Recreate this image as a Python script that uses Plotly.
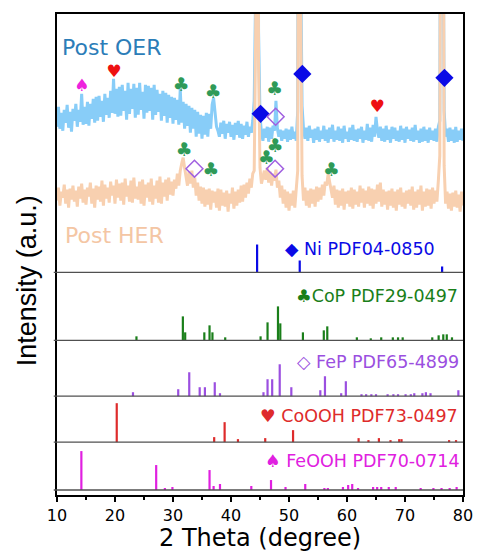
import numpy as np
import plotly.graph_objects as go

# ---------------- data ----------------
two_theta = np.linspace(10, 80, 281)  # 0.25 deg grid

post_oer = [
    24, 44, 22, 38, 20, 41, 28, 46, 23, 39, 19, 42, 30, 47, 24, 41,
    29, 57, 26, 44, 27, 49, 25, 47, 32, 52, 28, 54, 30, 55, 34, 50,
    29, 57, 36, 53, 33, 60, 38, 72, 37, 62, 34, 64, 35, 66, 40, 60,
    31, 68, 37, 62, 42, 67, 33, 63, 36, 68, 41, 59, 32, 66, 38, 65,
    40, 63, 31, 66, 36, 61, 39, 57, 30, 60, 35, 58, 28, 56, 33, 54,
    27, 53, 31, 51, 26, 62, 28, 49, 22, 47, 25, 45, 18, 43, 22, 41,
    14, 39, 17, 36, 12, 35, 16, 38, 14, 37, 22, 46, 53, 40, 24, 20,
    14, 28, 17, 30, 12, 27, 18, 29, 14, 26, 11, 28, 16, 30, 13, 27,
    12, 25, 16, 29, 14, 24, 18, 30, 50, 160, 800, 120, 35, 18, 10, 22,
    13, 24, 9, 23, 12, 25, 20, 50, 22, 14, 21, 10, 20, 12, 22, 9,
    21, 11, 24, 12, 19, 10, 40, 800, 200, 45, 22, 12, 23, 10, 25, 13,
    21, 8, 22, 11, 24, 9, 20, 12, 25, 10, 21, 8, 23, 12, 26, 9,
    20, 11, 24, 10, 22, 8, 25, 12, 19, 9, 23, 11, 26, 10, 21, 9,
    22, 12, 24, 8, 20, 11, 27, 10, 23, 9, 26, 14, 34, 20, 13, 24,
    10, 22, 9, 25, 11, 21, 8, 24, 12, 23, 10, 20, 9, 25, 11, 22,
    8, 24, 12, 21, 10, 23, 9, 26, 11, 20, 8, 22, 9, 24, 10, 21,
    8, 23, 11, 20, 10, 22, 9, 24, 30, 600, 600, 40, 14, 22, 9, 23,
    10, 21, 8, 24, 9, 20, 11, 22, 10,
]

post_her = [
    15, 28, 10, 24, 18, 31, 12, 26, 8, 27, 16, 30, 14, 25, 9, 29,
    17, 32, 13, 26, 11, 28, 19, 33, 12, 27, 8, 30, 16, 29, 14, 35,
    10, 31, 17, 28, 13, 34, 20, 30, 12, 36, 18, 32, 15, 33, 11, 37,
    19, 30, 14, 35, 13, 38, 17, 29, 16, 34, 12, 36, 10, 31, 18, 33,
    14, 37, 11, 30, 17, 35, 13, 39, 12, 33, 19, 36, 15, 38, 21, 34,
    20, 36, 27, 42, 30, 45, 52, 58, 48, 36, 30, 44, 32, 45, 28, 38,
    20, 33, 15, 29, 12, 28, 9, 26, 11, 27, 6, 25, 13, 24, 8, 27,
    5, 26, 10, 23, 9, 25, 4, 22, 12, 28, 7, 24, 10, 26, 13, 30,
    14, 31, 18, 33, 22, 37, 28, 42, 45, 180, 800, 150, 48, 32, 40, 45,
    36, 48, 33, 44, 30, 42, 35, 46, 28, 35, 18, 30, 12, 26, 8, 24,
    5, 22, 10, 25, 8, 28, 45, 800, 220, 40, 15, 28, 10, 25, 8, 27,
    12, 26, 9, 29, 14, 28, 16, 31, 20, 34, 30, 42, 35, 28, 18, 30,
    11, 26, 8, 25, 10, 27, 6, 24, 12, 25, 9, 28, 7, 26, 11, 24,
    9, 30, 13, 27, 8, 25, 12, 29, 10, 27, 7, 26, 12, 31, 14, 33,
    9, 26, 11, 24, 6, 25, 10, 27, 8, 24, 5, 26, 11, 28, 9, 23,
    7, 25, 12, 26, 10, 29, 6, 24, 8, 26, 11, 30, 5, 24, 9, 27,
    10, 26, 7, 28, 12, 25, 14, 35, 60, 600, 600, 50, 12, 24, 7, 22,
    5, 23, 9, 25, 8, 21, 4, 24, 10,
]

ni_pos = [44.5, 51.85, 76.4]
ni_int = [28, 12, 6]

cop_pos = [23.7, 31.7, 32.1, 35.4, 36.3, 36.8, 39.0, 45.1, 46.3, 48.1, 48.5, 52.4,
           56.0, 56.6, 61.7, 64.1, 65.9, 67.9, 68.8, 69.6, 74.7, 75.8, 76.6, 77.2, 78.1]
cop_int = [4, 24, 8, 8, 15, 8, 3, 4, 18, 34, 17, 8, 10, 14, 3, 2, 3, 3, 3, 3, 3, 5, 6, 6, 3]

fep_pos = [23.1, 30.9, 32.8, 34.6, 35.5, 37.2, 38.1, 45.6, 46.3, 47.1, 48.4, 50.4, 55.4,
           56.2, 59.0, 59.8, 62.5, 63.3, 64.2, 65.0, 67.0, 68.0, 68.8, 70.1, 71.0, 71.6,
           73.0, 73.6, 74.4, 79.2]
fep_int = [4, 7, 24, 9, 9, 14, 3, 4, 17, 17, 32, 9, 6, 20, 3, 15, 2, 2, 2, 2, 2, 2, 2, 2,
           2, 3, 3, 4, 3, 6]

cooh_pos = [20.3, 37.1, 38.9, 41.2, 45.9, 50.7, 62.0, 63.7, 65.5, 67.5, 69.0, 69.4, 77.6, 78.8]
cooh_int = [39, 5, 20, 3, 4, 12, 4, 2, 4, 2, 3, 3, 2, 2]

feooh_pos = [14.2, 27.1, 28.6, 29.9, 36.3, 37.0, 38.1, 43.5, 46.9, 49.4, 52.8, 56.1, 56.7,
             59.3, 60.2, 60.9, 61.9, 64.5, 65.2, 65.9, 67.2, 68.4, 72.7, 74.9, 76.3, 77.7, 78.9]
feooh_int = [39, 25, 2, 3, 20, 4, 6, 4, 10, 3, 6, 2, 2, 3, 5, 6, 2, 3, 3, 3, 3, 3, 2, 2, 2, 2, 3]

x_ticks = [10, 20, 30, 40, 50, 60, 70, 80]

# peak marker annotations on the spectra: (2theta, height, symbol)
oer_marks = [(14.3, 409, "spade"), (19.8, 423, "heart"), (31.4, 410, "club"),
             (36.9, 403, "club"), (45.1, 382, "ni"), (47.5, 406, "club"),
             (47.7, 379, "fep"), (52.3, 422, "ni"), (65.2, 388, "heart"),
             (76.8, 418, "ni")]
her_marks = [(31.9, 344, "club"), (33.7, 327, "fep"), (36.5, 324, "club"),
             (47.6, 348, "club"), (46.1, 336, "club"), (47.6, 327, "fep"),
             (57.3, 324, "club")]

# ---------------- styling ----------------
OER_OFF, HER_OFF = 345, 280
BASE = {"Ni": 223, "CoP": 155, "FeP": 99, "CoOOH": 53, "FeOOH": 5}
C_NI, C_COP, C_FEP, C_COOH, C_FEOOH = "#0a0ae6", "#1a7f1a", "#9b4fe0", "#de2b2b", "#e020e0"
C_OER, C_HER = "#88cdf8", "#f8d0b0"
FONT = "DejaVu Sans, sans-serif"

fig = go.Figure()

fig.add_trace(go.Scatter(x=two_theta, y=np.array(post_oer) + OER_OFF, mode="lines",
                         line=dict(color=C_OER, width=3), hoverinfo="skip"))
fig.add_trace(go.Scatter(x=two_theta, y=np.array(post_her) + HER_OFF, mode="lines",
                         line=dict(color=C_HER, width=3), hoverinfo="skip"))

for pos, inten, base, col in [(ni_pos, ni_int, BASE["Ni"], C_NI),
                              (cop_pos, cop_int, BASE["CoP"], C_COP),
                              (fep_pos, fep_int, BASE["FeP"], C_FEP),
                              (cooh_pos, cooh_int, BASE["CoOOH"], C_COOH),
                              (feooh_pos, feooh_int, BASE["FeOOH"], C_FEOOH)]:
    fig.add_trace(go.Bar(x=pos, y=inten, base=base, width=0.38,
                         marker=dict(color=col, line=dict(width=0)), hoverinfo="skip"))

sym_style = {
    "club": ("♣", "#2f9a58", 19),
    "heart": ("♥", "#ee1111", 17),
    "spade": ("♠", "#ee22dd", 17),
}
for marks in (oer_marks, her_marks):
    for kind in ("club", "heart", "spade"):
        pts = [m for m in marks if m[2] == kind]
        if not pts:
            continue
        ch, col, sz = sym_style[kind]
        fig.add_trace(go.Scatter(x=[p[0] for p in pts], y=[p[1] for p in pts], mode="text",
                                 text=[ch] * len(pts), textposition="middle center",
                                 textfont=dict(family="DejaVu Sans", size=sz, color=col),
                                 hoverinfo="skip"))
    ni = [m for m in marks if m[2] == "ni"]
    if ni:
        fig.add_trace(go.Scatter(x=[p[0] for p in ni], y=[p[1] for p in ni], mode="markers",
                                 marker=dict(symbol="diamond", size=14, color="#0a0ae6"),
                                 hoverinfo="skip"))
    fp = [m for m in marks if m[2] == "fep"]
    if fp:
        fig.add_trace(go.Scatter(x=[p[0] for p in fp], y=[p[1] for p in fp], mode="markers",
                                 marker=dict(symbol="diamond-open", size=13, color="#a060e0",
                                             line=dict(width=1.5)),
                                 hoverinfo="skip"))

# separators
for key, b in BASE.items():
    fig.add_shape(type="line", xref="paper", yref="y", x0=-0.008, x1=1, y0=b, y1=b,
                  line=dict(color="#505050", width=1.3))

ann = [
    (75.5, 247, "◆ Ni PDF04-0850", C_NI),
    (79.5, 199, "♣CoP PDF29-0497", C_COP),
    (79.7, 133, "◇ FeP PDF65-4899", C_FEP),
    (79.5, 79, "♥ CoOOH PDF73-0497", C_COOH),
    (79.8, 34, "♠ FeOOH PDF70-0714", C_FEOOH),
]
for x, y, t, c in ann:
    fig.add_annotation(x=x, y=y, text=t, showarrow=False, xanchor="right", yanchor="middle",
                       font=dict(family=FONT, size=17.5, color=c))

fig.add_annotation(x=10.5, y=448, text="Post OER", showarrow=False, xanchor="left",
                   yanchor="middle", font=dict(family=FONT, size=22, color="#2c7db8"))
fig.add_annotation(x=11.0, y=260, text="Post HER", showarrow=False, xanchor="left",
                   yanchor="middle", font=dict(family=FONT, size=22, color="#f4c6a4"))

fig.add_annotation(xref="paper", yref="paper", x=-0.072, y=0.446, text="Intensity (a.u.)",
                   textangle=-90, showarrow=False, xanchor="center", yanchor="middle",
                   font=dict(family="Liberation Sans, Arial, sans-serif", size=27, color="black"))
fig.add_annotation(xref="paper", yref="paper", x=0.5, y=-0.089, text="2 Theta (degree)",
                   showarrow=False, xanchor="center", yanchor="middle",
                   font=dict(family=FONT, size=24, color="black"))

fig.update_layout(
    width=485, height=554, margin=dict(l=57, r=14, t=13, b=59),
    paper_bgcolor="white", plot_bgcolor="white", showlegend=False, barmode="overlay",
    xaxis=dict(range=[10, 80], tickvals=x_ticks,
               ticks="outside", ticklen=5, tickwidth=1.5, tickcolor="black",
               ticklabelstandoff=0,
               minor=dict(tickvals=[15, 25, 35, 45, 55, 65, 75], ticks="outside",
                          ticklen=3, tickwidth=1.5, tickcolor="black"),
               showline=True, mirror=True, linecolor="black", linewidth=2,
               showgrid=False, zeroline=False,
               tickfont=dict(family=FONT, size=16, color="black")),
    yaxis=dict(range=[0, 482], showticklabels=False, ticks="", showline=True, mirror=True,
               linecolor="black", linewidth=2, showgrid=False, zeroline=False),
)

fig.write_html("out.html")
